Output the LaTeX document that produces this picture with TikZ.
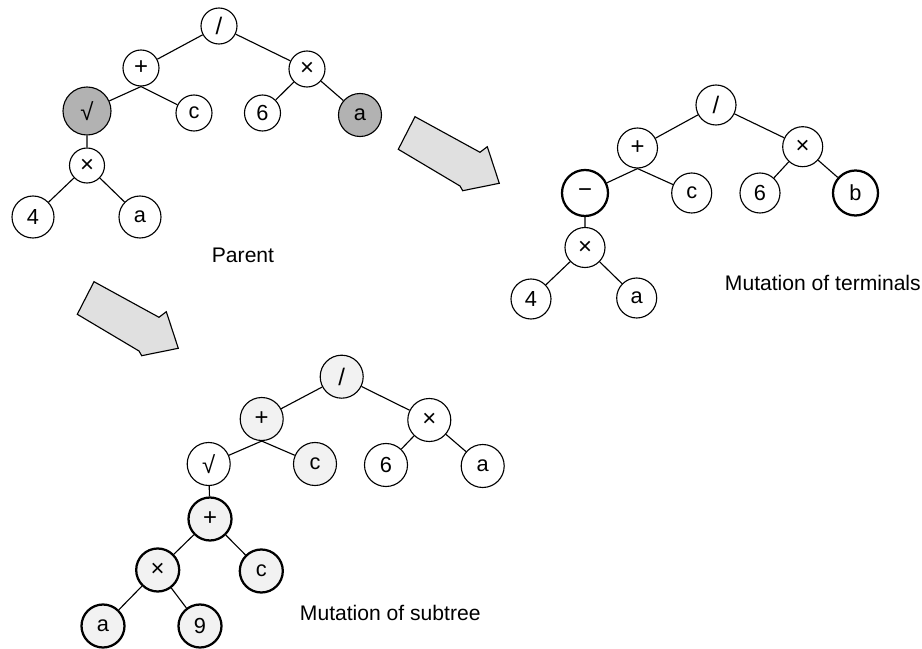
\documentclass[tikz,border=0pt]{standalone}
\usepackage{fontspec}
\setmainfont{Liberation Sans}
\definecolor{nodedark}{RGB}{178,178,178}
\definecolor{arrowfill}{RGB}{224,224,224}
\definecolor{subfill}{RGB}{242,242,242}
\tikzset{
  tn/.style={circle,draw,line width=0.8pt,inner sep=0pt,minimum size=#1,font=\fontsize{15.5}{15.5}\selectfont},
  tn/.default=0.9cm,
  op/.style={font=\fontsize{17}{17}\selectfont},
  mut/.style={line width=1.6pt},
  ed/.style={line width=0.8pt},
  lab/.style={font=\fontsize{15}{18}\selectfont}
}
\begin{document}
\begin{tikzpicture}[x=0.025cm,y=-0.025cm]%parent and its two mutations
\useasboundingbox (0,0) rectangle (922,649);
%parent
\node[tn,op] (p-div) at (219,26) {/};
\node[tn,op] (p-plus) at (141,68) {+};
\node[tn,op] (p-times) at (307,69) {×};
\node[tn=1.2cm,op,fill=nodedark] (p-sqrt) at (87,111) {√};
\node[tn] (p-c) at (194,113) {c};
\node[tn] (p-6) at (262.5,113) {6};
\node[tn=1.075cm,fill=nodedark] (p-a) at (360,115) {a};
\node[tn=0.875cm,op] (p-times2) at (87,165.5) {×};
\node[tn=1.05cm] (p-4) at (33,217) {4};
\node[tn=1.05cm] (p-a2) at (140,217) {a};
\draw[ed] (p-div)--(p-plus) (p-div)--(p-times) (p-plus.south)--(p-sqrt) (p-plus.south)--(p-c)
	(p-times)--(p-6) (p-times)--(p-a) (p-sqrt)--(p-times2) (p-times2)--(p-4) (p-times2)--(p-a2);
\node[lab] (parent) at (243,255) {Parent};
%mutation of terminals
\node[tn=1cm,op] (t-div) at (716,105) {/};
\node[tn=1cm,op] (t-plus) at (637.5,148) {+};
\node[tn=1cm,op] (t-times) at (802.7,146.7) {×};
\node[tn=1.15cm,op,mut] (t-minus) at (585,193) {−};
\node[tn=1cm] (t-c) at (691.7,193) {c};
\node[tn=1cm] (t-6) at (760,193) {6};
\node[tn=1.125cm,mut] (t-b) at (855.5,193) {b};
\node[tn=1cm,op] (t-times2) at (585,247.5) {×};
\node[tn=1cm] (t-4) at (531,299) {4};
\node[tn=1cm] (t-a) at (636.7,298) {a};
\draw[ed] (t-div)--(t-plus) (t-div)--(t-times) (t-plus.south)--(t-minus) (t-plus.south)--(t-c)
	(t-times)--(t-6) (t-times)--(t-b) (t-minus)--(t-times2) (t-times2)--(t-4) (t-times2)--(t-a);
\node[lab,anchor=west] (terminals) at (720,283) {Mutation of terminals};
%mutation of subtree
\node[tn=1.075cm,op,fill=subfill] (s-div) at (341.7,376.7) {/};
\node[tn=1.075cm,op,fill=subfill] (s-plus) at (261.7,419) {+};
\node[tn=1.075cm,op] (s-times) at (429.3,420) {×};
\node[tn=1.075cm,op] (s-sqrt) at (208.7,464) {√};
\node[tn=1.075cm,fill=subfill] (s-c) at (315,464) {c};
\node[tn=1.075cm] (s-6) at (386,465) {6};
\node[tn=1.075cm] (s-a) at (482.7,466) {a};
\node[tn=1.075cm,op,mut,fill=subfill] (s-plus2) at (210,519) {+};
\node[tn=1.075cm,op,mut,fill=subfill] (s-times2) at (157.7,570) {×};
\node[tn=1.075cm,mut,fill=subfill] (s-c2) at (261.3,571) {c};
\node[tn=1.075cm,mut,fill=subfill] (s-a2) at (103,626) {a};
\node[tn=1.075cm,mut,fill=subfill] (s-9) at (200,626) {9};
\draw[ed] (s-div)--(s-plus) (s-div)--(s-times) (s-plus.south)--(s-sqrt) (s-plus.south)--(s-c)
	(s-times)--(s-6) (s-times)--(s-a) (s-sqrt)--(s-plus2) (s-plus2)--(s-times2) (s-plus2)--(s-c2)
	(s-times2)--(s-a2) (s-times2)--(s-9);
\node[lab,anchor=west] (subtree) at (295,613) {Mutation of subtree};
%arrows
\foreach \dx/\dy in {0/0,-321/165}
\draw[fill=arrowfill,line width=0.8pt,shift={(\dx,\dy)}] (415,116.7)--(398.3,149.3)--(460,186)--(462.7,190.7)--(499.3,183.3)--(487.3,146.7)--(480,152.3)--cycle;
\end{tikzpicture}
\end{document}
